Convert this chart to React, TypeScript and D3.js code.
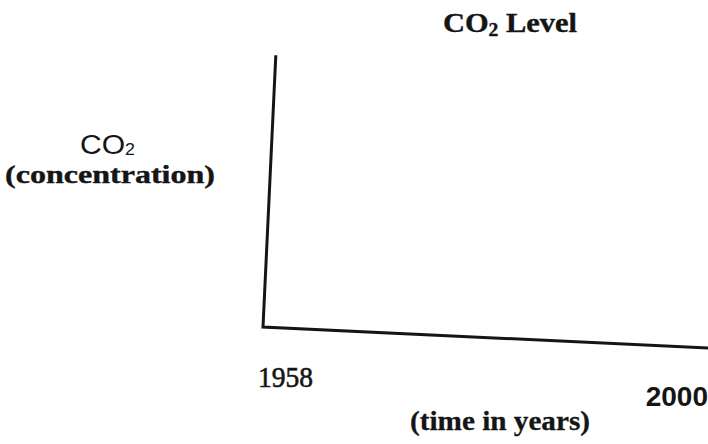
import React from "react";
import * as d3 from "d3";

// axis extent
const years = [1958, 2000];
const yearLabels = ["1958", "2000"];
const concDomain = [0, 1];

const W = 708;
const H = 444;

// the scan is tilted a little clockwise
const tilt = 2.7;
const origin = { x: 263, y: 327 };

const serif = "'Liberation Serif', 'DejaVu Serif', serif";
const sans = "'Liberation Sans', Arial, sans-serif";
const ink = "#151515";

export default function App() {
  const x = d3.scaleLinear().domain(years).range([0, 446]);
  const y = d3.scaleLinear().domain(concDomain).range([0, -272]);

  const axisPath = d3.line<[number, number]>()(
    [
      [x(years[0]), y(concDomain[1])],
      [x(years[0]), y(concDomain[0])],
      [x(years[1]), y(concDomain[0])],
    ]
  );

  return (
    <svg
      width={W}
      height={H}
      style={{ position: "absolute", left: 0, top: 0, background: "#fff" }}
    >
      {/* title */}
      <text
        x={443}
        y={32}
        fontFamily={serif}
        fontWeight="bold"
        fontSize={28}
        fill={ink}
        stroke={ink}
        strokeWidth={0.4}
        textLength={134}
        lengthAdjust="spacingAndGlyphs"
      >
        CO<tspan fontSize={18} dy={4}>2</tspan>
        <tspan dy={-4}> Level</tspan>
      </text>

      {/* y label */}
      <text x={80} y={154} fontFamily={sans} fontSize={27} fill={ink}
        textLength={55} lengthAdjust="spacingAndGlyphs">
        CO<tspan fontSize={16} dy={1}>2</tspan>
      </text>
      <text
        x={5}
        y={183}
        fontFamily={serif}
        fontWeight="bold"
        fontSize={26}
        fill={ink}
        stroke={ink}
        strokeWidth={0.4}
        textLength={210}
        lengthAdjust="spacingAndGlyphs"
      >
        (concentration)
      </text>

      <g transform={`translate(${origin.x},${origin.y}) rotate(${tilt})`}>
        <path
          d={axisPath ?? ""}
          fill="none"
          stroke={ink}
          strokeWidth={3}
          strokeLinejoin="miter"
        />
      </g>

      {/* year labels */}
      <text
        x={origin.x + x(years[0]) - 5}
        y={387}
        fontFamily={serif}
        fontSize={29}
        fill={ink}
        stroke={ink}
        strokeWidth={0.6}
        textLength={55}
        lengthAdjust="spacingAndGlyphs"
      >
        {yearLabels[0]}
      </text>
      <text
        x={origin.x + x(years[1]) - 1}
        y={406}
        textAnchor="end"
        fontFamily={sans}
        fontWeight="bold"
        fontSize={28}
        fill={ink}
      >
        {yearLabels[1]}
      </text>

      {/* x label */}
      <text
        x={410}
        y={430}
        fontFamily={serif}
        fontWeight="bold"
        fontSize={28}
        fill={ink}
        stroke={ink}
        strokeWidth={0.3}
        textLength={180}
        lengthAdjust="spacingAndGlyphs"
      >
        (time in years)
      </text>
    </svg>
  );
}
